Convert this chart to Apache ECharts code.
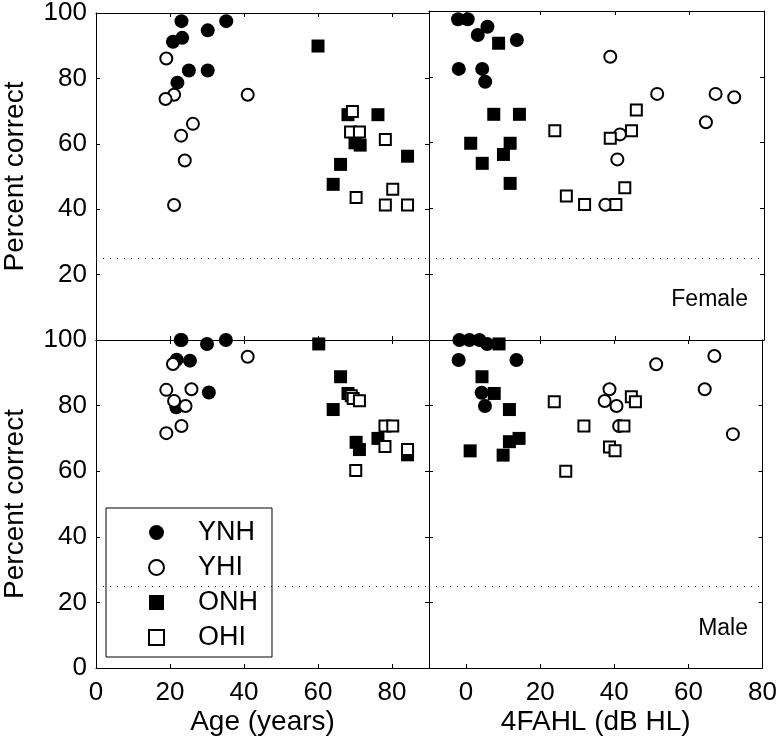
<!DOCTYPE html>
<html>
<head>
<meta charset="utf-8">
<script src="https://cdn.jsdelivr.net/npm/echarts@6/dist/echarts.min.js"></script>
<style>
  html, body { margin: 0; padding: 0; background: #fff; }
  #chart { width: 780px; height: 741px; }
</style>
</head>
<body>
<div id="chart"></div>
<script>
// groups and panels
const groups = ["YNH", "YHI", "ONH", "OHI"];
const chanceLevel = 25;

// tick values
const ageTicks = [0, 20, 40, 60, 80];
const hlTicks = [0, 20, 40, 60, 80];
const pcTicksTop = [20, 40, 60, 80, 100];
const pcTicksBottom = [0, 20, 40, 60, 80, 100];

// Female, x = age (years), y = percent correct
const femaleAgeYNH = [[23.1, 97.5], [35.2, 97.5], [30.2, 94.7], [23.3, 92.4], [20.8, 91.2], [25.1, 82.4], [30.2, 82.4], [22.0, 78.7]];
const femaleAgeYHI = [[19.0, 86.1], [41.0, 75.0], [21.1, 75.0], [18.8, 73.7], [26.2, 66.1], [23.0, 62.5], [24.0, 54.9], [21.1, 41.3]];
const femaleAgeONH = [[60.0, 89.9], [68.1, 68.9], [76.2, 68.9], [70.0, 60.3], [71.4, 59.6], [84.2, 56.2], [66.1, 53.7], [64.1, 47.6]];
const femaleAgeOHI = [[69.3, 69.9], [68.8, 63.6], [71.2, 63.6], [78.2, 61.3], [80.2, 46.1], [70.3, 43.6], [78.2, 41.3], [84.2, 41.3]];

// Female, x = 4FAHL (dB HL)
const femaleHlYNH = [[-2.2, 97.5], [0.4, 97.5], [5.7, 95.2], [3.1, 92.7], [13.6, 91.2], [-2.0, 82.4], [4.3, 82.4], [5.1, 78.5]];
const femaleHlYHI = [[38.7, 86.1], [51.3, 74.8], [67.0, 74.8], [72.0, 73.8], [64.4, 66.2], [41.3, 62.5], [40.6, 54.9], [37.4, 41.1]];
const femaleHlONH = [[8.7, 90.2], [7.4, 68.6], [14.3, 68.6], [1.2, 59.8], [11.8, 59.8], [10.0, 56.4], [4.3, 53.7], [11.8, 47.6]];
const femaleHlOHI = [[45.7, 69.9], [23.8, 63.6], [44.4, 63.6], [38.7, 61.3], [42.6, 46.3], [26.9, 43.8], [31.8, 41.2], [40.2, 41.2]];

// Male, x = age (years)
const maleAgeYNH = [[23.1, 100], [22.9, 100], [35.1, 100], [30.0, 98.8], [21.8, 94.0], [25.4, 93.7], [30.5, 84.0], [21.7, 79.5]];
const maleAgeYHI = [[41.0, 94.9], [20.8, 92.7], [19.0, 84.8], [25.8, 85.0], [21.1, 81.4], [24.2, 79.9], [23.1, 73.8], [19.0, 71.6]];
const maleAgeONH = [[60.2, 98.8], [66.1, 88.8], [68.1, 83.7], [64.1, 78.8], [76.2, 70.0], [70.3, 68.8], [71.2, 66.6], [84.2, 65.0]];
const maleAgeOHI = [[69.0, 83.0], [69.5, 82.2], [71.2, 81.5], [78.1, 73.8], [80.2, 73.8], [78.1, 67.5], [84.2, 66.6], [70.2, 60.2]];

// Male, x = 4FAHL (dB HL)
const maleHlYNH = [[-1.8, 100], [0.9, 100], [3.6, 100], [5.7, 98.8], [-2.0, 93.9], [13.6, 93.9], [4.2, 83.9], [5.1, 79.9]];
const maleHlYHI = [[67.0, 95.1], [51.3, 92.6], [38.7, 85.0], [64.4, 85.0], [37.4, 81.4], [40.6, 79.9], [41.3, 73.8], [72.0, 71.3]];
const maleHlONH = [[8.9, 98.8], [4.3, 88.8], [7.6, 83.7], [11.7, 78.8], [14.3, 70.0], [11.7, 69.0], [1.1, 66.2], [10.0, 64.9]];
const maleHlOHI = [[44.6, 82.7], [23.8, 81.2], [45.7, 81.2], [31.8, 73.8], [42.6, 73.8], [38.7, 67.4], [40.2, 66.2], [26.9, 60.0]];

const FONT = '"Liberation Sans", Arial, Helvetica, sans-serif';

// panel data per grid: TL, TR, BL, BR
const panels = [
  [femaleAgeYNH, femaleAgeYHI, femaleAgeONH, femaleAgeOHI],
  [femaleHlYNH, femaleHlYHI, femaleHlONH, femaleHlOHI],
  [maleAgeYNH, maleAgeYHI, maleAgeONH, maleAgeOHI],
  [maleHlYNH, maleHlYHI, maleHlONH, maleHlOHI],
];

const markerStyle = {
  YNH: { symbol: "circle", symbolSize: 14, itemStyle: { color: "#000", opacity: 1 } },
  YHI: { symbol: "circle", symbolSize: 12, itemStyle: { color: "#fff", borderColor: "#000", borderWidth: 2, opacity: 1 } },
  ONH: { symbol: "rect", symbolSize: 13, itemStyle: { color: "#000", opacity: 1 } },
  OHI: { symbol: "rect", symbolSize: 11, itemStyle: { color: "#fff", borderColor: "#000", borderWidth: 2, opacity: 1 } },
};

const grids = [
  { left: 93, top: 11, width: 336, height: 329 },
  { left: 429, top: 11, width: 335, height: 329 },
  { left: 93, top: 340, width: 336, height: 328 },
  { left: 429, top: 340, width: 335, height: 328 },
];

function tick(values) {
  return { show: true, inside: true, length: 4, customValues: values, lineStyle: { color: "#000", width: 1 } };
}

function xAxis(gridIndex, isAge, position, withLabels) {
  const ticks = isAge ? ageTicks : hlTicks;
  return {
    type: "value",
    gridIndex: gridIndex,
    position: position,
    min: isAge ? 0 : -10,
    max: isAge ? 90 : 80,
    axisLine: { show: true, onZero: false, lineStyle: { color: "#000", width: 1 } },
    axisTick: tick(ticks),
    splitLine: { show: false },
    axisLabel: {
      show: withLabels,
      customValues: ticks,
      margin: 12,
      color: "#000",
      fontFamily: FONT,
      fontSize: 26,
    },
    name: withLabels ? (isAge ? "Age (years)" : "4FAHL (dB HL)") : "",
    nameLocation: "middle",
    nameGap: 40,
    nameTextStyle: { color: "#000", fontFamily: FONT, fontSize: 28 },
  };
}

function yAxis(gridIndex, isTop, position, withLabels) {
  const ticks = isTop ? pcTicksTop : pcTicksBottom;
  return {
    type: "value",
    gridIndex: gridIndex,
    position: position,
    min: 0,
    max: 100,
    axisLine: { show: true, onZero: false, lineStyle: { color: "#000", width: 1 } },
    axisTick: tick([20, 40, 60, 80]),
    splitLine: { show: false },
    axisLabel: {
      show: withLabels,
      customValues: ticks,
      margin: 9,
      color: "#000",
      fontFamily: FONT,
      fontSize: 26,
    },
    name: withLabels ? "Percent correct" : "",
    nameLocation: "middle",
    nameGap: 67,
    nameTextStyle: { color: "#000", fontFamily: FONT, fontSize: 28 },
  };
}

const xAxes = [
  xAxis(0, true, "bottom", false),
  xAxis(1, false, "bottom", false),
  xAxis(2, true, "bottom", true),
  xAxis(3, false, "bottom", true),
  xAxis(0, true, "top", false),
  xAxis(1, false, "top", false),
  xAxis(2, true, "top", false),
  xAxis(3, false, "top", false),
];

const yAxes = [
  yAxis(0, true, "left", true),
  yAxis(1, true, "left", false),
  yAxis(2, false, "left", true),
  yAxis(3, false, "left", false),
  yAxis(0, true, "right", false),
  yAxis(1, true, "right", false),
  yAxis(2, false, "right", false),
  yAxis(3, false, "right", false),
];

const series = [];
panels.forEach((panel, p) => {
  panel.forEach((data, g) => {
    const name = groups[g];
    const s = {
      name: name,
      type: "scatter",
      xAxisIndex: p,
      yAxisIndex: p,
      data: data,
      clip: false,
      symbol: markerStyle[name].symbol,
      symbolSize: markerStyle[name].symbolSize,
      itemStyle: markerStyle[name].itemStyle,
      emphasis: { disabled: true },
      z: 2 + g,
    };
    // chance level dotted line, drawn once per panel
    if (g === 0) {
      s.markLine = {
        silent: true,
        symbol: "none",
        label: { show: false },
        lineStyle: { color: "#222", width: 1, type: [1, 6], opacity: 1 },
        data: [{ yAxis: chanceLevel }],
      };
    }
    series.push(s);
  });
});

const chart = echarts.init(document.getElementById("chart"), null, { renderer: "canvas" });

chart.setOption({
  animation: false,
  backgroundColor: "#fff",
  grid: grids,
  xAxis: xAxes,
  yAxis: yAxes,
  legend: {
    data: groups,
    orient: "vertical",
    left: 106,
    top: 508,
    padding: [11, 14, 6, 42],
    itemWidth: 15,
    itemHeight: 15,
    itemGap: 8,
    backgroundColor: "#fff",
    borderColor: "#000",
    borderWidth: 1,
    borderRadius: 0,
    selectedMode: false,
    textStyle: { color: "#000", fontFamily: FONT, fontSize: 27, padding: [0, 0, 0, 29] },
  },
  graphic: [
    {
      type: "text",
      x: 748,
      y: 300,
      style: { text: "Female", fill: "#000", font: "23px " + FONT, align: "right", verticalAlign: "middle" },
    },
    {
      type: "text",
      x: 748,
      y: 629,
      style: { text: "Male", fill: "#000", font: "23px " + FONT, align: "right", verticalAlign: "middle" },
    },
  ],
  series: series,
});
</script>
</body>
</html>
